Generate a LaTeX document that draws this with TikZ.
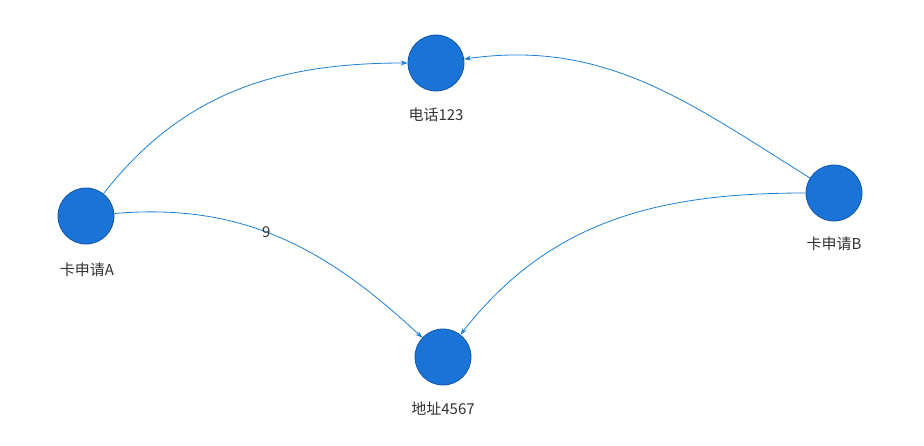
\documentclass[tikz,border=0pt]{standalone}
\usepackage{fontspec}
\setmainfont{Noto Sans CJK SC}
\usetikzlibrary{arrows.meta}
\definecolor{nodefill}{HTML}{1A73D6}
\definecolor{nodeline}{HTML}{1456A8}
\definecolor{edge}{HTML}{1A7FD4}
\definecolor{txt}{HTML}{333333}
\begin{document}
\begin{tikzpicture}[x=1pt,y=-1pt,
  vert/.style={circle,fill=nodefill,draw=nodeline,line width=0.8pt,minimum size=56pt,inner sep=0pt},
  lab/.style={text=txt,font=\fontsize{15}{18}\selectfont},
  link/.style={draw=edge,line width=0.8pt,-{Stealth[length=7pt,width=5pt]}}]
\useasboundingbox (0,0) rectangle (924,445);
\node[vert] (A) at (86,216) {};
\node[vert] (P) at (436,63) {};
\node[vert] (B) at (834,193) {};
\node[vert] (D) at (443,357) {};
\node[lab] (lA) at (87,270) {卡申请A};
\node[lab] (lP) at (436,115) {电话123};
\node[lab] (lB) at (834,244) {卡申请B};
\node[lab] (lD) at (443,409) {地址4567};
\draw[link] (A) to[out=52,in=180] (P);
\draw[link] (A) to[out=5,in=137] node[lab,pos=0.45,inner sep=1pt] {9} (D);
\draw[link] (B) to[out=148,in=8] (P);
\draw[link] (B) to[out=180,in=52] (D);
\end{tikzpicture}
\end{document}
